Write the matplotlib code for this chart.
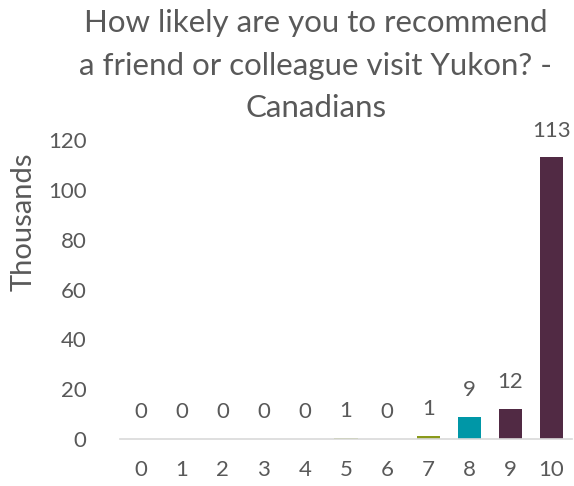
import matplotlib
matplotlib.use("Agg")
import matplotlib.pyplot as plt

categories = ["0", "1", "2", "3", "4", "5", "6", "7", "8", "9", "10"]
values = [0, 0, 0, 0, 0, 0.6, 0, 1.2, 9, 12, 113]
colors = ["#a6b85a", "#a6b85a", "#a6b85a", "#a6b85a", "#a6b85a", "#a6b85a",
          "#a6b85a", "#8a9a1b", "#0097a7", "#512a44", "#512a44"]
yticks = [0, 20, 40, 60, 80, 100, 120]
title_lines = ["How likely are you to recommend",
               "a friend or colleague visit Yukon? -",
               "Canadians"]

plt.rcParams['font.family'] = ['Lato', 'DejaVu Sans']
txt = "#595959"

fig = plt.figure(figsize=(5.74, 4.86), dpi=100)
ax = fig.add_axes([120/574, 1-439/486, 452/574, (439-140)/486])

x = list(range(len(categories)))
bars = ax.bar(x, values, width=0.56, color=colors)
for xi, v in zip(x, values):
    ax.annotate(f"{v:.0f}", (xi, v), xytext=(0, 12), textcoords="offset points",
                ha="center", va="bottom", fontsize=16, color=txt)

ax.set_xlim(-0.5, len(categories) - 0.5)
ax.set_ylim(0, 120)
ax.set_yticks(yticks)
ax.set_yticklabels([str(t) for t in yticks], fontsize=16, color=txt)
ax.set_xticks(x)
ax.set_xticklabels(categories, fontsize=16, color=txt)
ax.tick_params(axis="both", length=0)
ax.tick_params(axis="x", pad=15)
ax.tick_params(axis="y", pad=24)
for s in ["top", "right", "left"]:
    ax.spines[s].set_visible(False)
ax.spines["bottom"].set_color("#d9d9d9")
ax.spines["bottom"].set_linewidth(1.2)

fig.text(24/574, 1-222/486, "Thousands", rotation=90, ha="center", va="center",
         fontsize=21, color=txt)

for line, yb in zip(title_lines, [32, 75, 117]):
    fig.text(0.55, 1-yb/486, line, ha="center", va="baseline", fontsize=22.5,
             color=txt)

fig.savefig("out.png", dpi=100)
